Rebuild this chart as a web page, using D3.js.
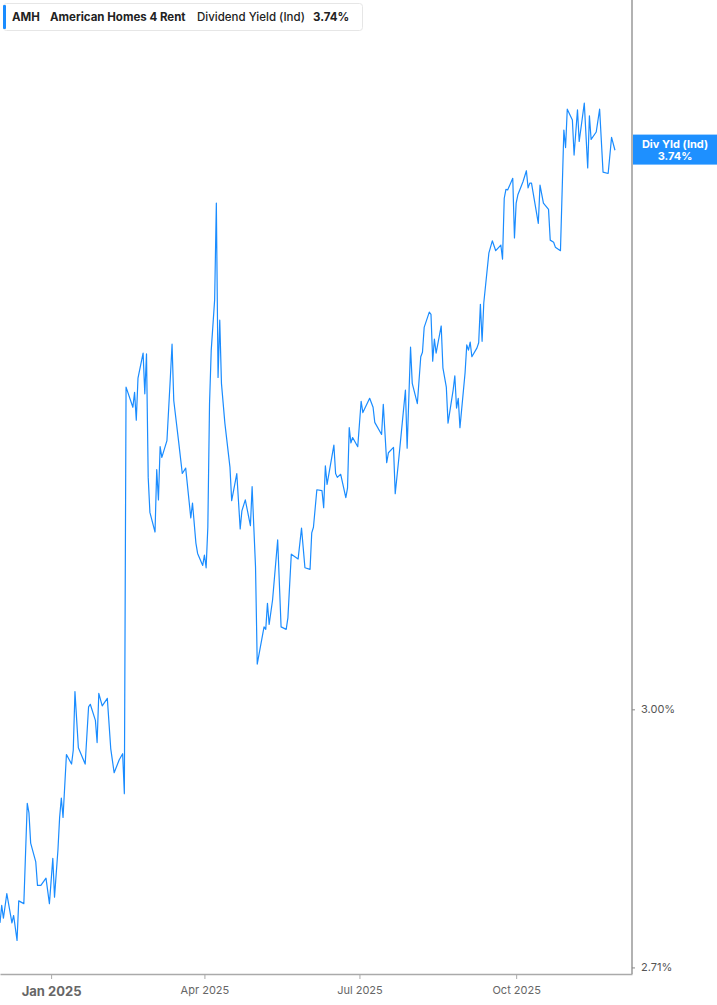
<!DOCTYPE html>
<html>
<head>
<meta charset="utf-8">
<script src="https://cdn.jsdelivr.net/npm/d3@7"></script>
<style>
  html, body { margin: 0; padding: 0; background: #fff; }
  svg { display: block; font-family: Inter, "Noto Sans", sans-serif; }
</style>
</head>
<body>
<svg id="svg" width="717" height="1005"></svg>
<script>
// dividend yield (ind), %
const dates = [
  "2024-12-02","2024-12-03","2024-12-04","2024-12-06","2024-12-09","2024-12-10","2024-12-12","2024-12-13",
  "2024-12-16","2024-12-18","2024-12-19","2024-12-20","2024-12-23","2024-12-24","2024-12-26","2024-12-29",
  "2024-12-31","2025-01-02","2025-01-03","2025-01-05","2025-01-06","2025-01-07","2025-01-08","2025-01-10",
  "2025-01-13","2025-01-14","2025-01-15","2025-01-17","2025-01-21","2025-01-23","2025-01-24","2025-01-27",
  "2025-01-28","2025-01-29","2025-01-31","2025-02-03","2025-02-05","2025-02-07","2025-02-10","2025-02-12",
  "2025-02-13","2025-02-14","2025-02-18","2025-02-19","2025-02-20","2025-02-21","2025-02-24","2025-02-25",
  "2025-02-26","2025-02-27","2025-02-28","2025-03-03","2025-03-04","2025-03-05","2025-03-06","2025-03-07",
  "2025-03-10","2025-03-12","2025-03-13","2025-03-14","2025-03-17","2025-03-19","2025-03-21","2025-03-24",
  "2025-03-25","2025-03-27","2025-03-28","2025-03-31","2025-04-01","2025-04-02","2025-04-03","2025-04-04",
  "2025-04-05","2025-04-07","2025-04-08","2025-04-09","2025-04-10","2025-04-11","2025-04-13","2025-04-16",
  "2025-04-17","2025-04-20","2025-04-22","2025-04-23","2025-04-25","2025-04-28","2025-04-29","2025-04-30",
  "2025-05-01","2025-05-02","2025-05-06","2025-05-07","2025-05-08","2025-05-09","2025-05-11","2025-05-14",
  "2025-05-16","2025-05-19","2025-05-20","2025-05-22","2025-05-26","2025-05-28","2025-05-30","2025-06-02",
  "2025-06-03","2025-06-04","2025-06-06","2025-06-09","2025-06-10","2025-06-11","2025-06-12","2025-06-16",
  "2025-06-17","2025-06-18","2025-06-20","2025-06-23","2025-06-24","2025-06-25","2025-06-26","2025-06-27",
  "2025-06-30","2025-07-02","2025-07-03","2025-07-07","2025-07-09","2025-07-10","2025-07-14","2025-07-15",
  "2025-07-17","2025-07-18","2025-07-21","2025-07-22","2025-07-24","2025-07-28","2025-07-29","2025-07-31",
  "2025-08-01","2025-08-04","2025-08-06","2025-08-07","2025-08-08","2025-08-11","2025-08-12","2025-08-13",
  "2025-08-14","2025-08-15","2025-08-18","2025-08-19","2025-08-21","2025-08-22","2025-08-25","2025-08-26",
  "2025-08-27","2025-08-28","2025-08-29","2025-09-01","2025-09-02","2025-09-03","2025-09-04","2025-09-05",
  "2025-09-08","2025-09-09","2025-09-10","2025-09-11","2025-09-12","2025-09-15","2025-09-17","2025-09-19",
  "2025-09-22","2025-09-23","2025-09-24","2025-09-25","2025-09-26","2025-09-29","2025-09-30","2025-10-01",
  "2025-10-02","2025-10-05","2025-10-07","2025-10-08","2025-10-09","2025-10-10","2025-10-14","2025-10-15",
  "2025-10-17","2025-10-20","2025-10-21","2025-10-23","2025-10-24","2025-10-27","2025-10-29","2025-10-30",
  "2025-10-31","2025-11-03","2025-11-04","2025-11-06","2025-11-07","2025-11-10","2025-11-12","2025-11-13",
  "2025-11-14","2025-11-17","2025-11-19","2025-11-21","2025-11-24","2025-11-26","2025-11-28"
];
const yields = [
  2.758,2.777,2.763,2.790,2.758,2.766,2.739,2.782,
  2.779,2.891,2.880,2.846,2.825,2.799,2.799,2.807,
  2.779,2.829,2.786,2.838,2.875,2.897,2.875,2.947,
  2.936,2.952,3.021,2.955,2.936,3.003,3.006,2.987,
  2.961,3.019,3.004,3.013,2.954,2.926,2.941,2.948,
  2.902,3.406,3.379,3.399,3.362,3.418,3.452,3.397,
  3.451,3.287,3.242,3.217,3.297,3.258,3.327,3.313,
  3.335,3.419,3.464,3.388,3.331,3.292,3.299,3.235,
  3.254,3.203,3.190,3.175,3.188,3.172,3.223,3.384,
  3.456,3.525,3.662,3.419,3.497,3.411,3.358,3.300,
  3.257,3.292,3.221,3.244,3.258,3.225,3.275,3.223,
  3.173,3.054,3.099,3.096,3.128,3.102,3.132,3.207,
  3.099,3.096,3.110,3.189,3.183,3.222,3.172,3.170,
  3.216,3.223,3.271,3.270,3.248,3.302,3.278,3.329,
  3.292,3.287,3.291,3.261,3.273,3.352,3.332,3.339,
  3.327,3.387,3.372,3.391,3.379,3.359,3.343,3.383,
  3.306,3.319,3.326,3.266,3.309,3.402,3.325,3.460,
  3.411,3.384,3.447,3.453,3.487,3.508,3.505,3.441,
  3.471,3.452,3.489,3.432,3.406,3.358,3.402,3.421,
  3.378,3.391,3.352,3.425,3.463,3.456,3.467,3.447,
  3.459,3.466,3.519,3.468,3.521,3.591,3.608,3.594,
  3.602,3.582,3.669,3.682,3.681,3.698,3.612,3.662,
  3.674,3.693,3.709,3.684,3.691,3.691,3.633,3.688,
  3.662,3.653,3.609,3.606,3.599,3.594,3.769,3.743,
  3.800,3.784,3.732,3.799,3.752,3.809,3.713,3.790,
  3.755,3.766,3.800,3.707,3.705,3.758,3.739
];
const xTicks = ["2025-01-01", "2025-04-01", "2025-07-01", "2025-10-01"];
const yTicks = [3.00, 2.71];
const lastValue = 3.74;

const parse = d3.utcParse("%Y-%m-%d");
const data = dates.map((d, i) => ({ date: parse(d), value: yields[i] }));

const plotW = 632, plotH = 974;
const blue = "#1a8cff";

const x = d3.scaleUtc()
  .domain([parse("2024-12-02"), parse("2025-12-08")])
  .range([0, plotW]);

const y = d3.scaleLog()
  .domain([2.703, 3.967])
  .range([plotH, 0]);

const svg = d3.select("#svg");

// the line
svg.append("path")
  .datum(data)
  .attr("fill", "none")
  .attr("stroke", blue)
  .attr("stroke-width", 1.2)
  .attr("stroke-linejoin", "round")
  .attr("d", d3.line().x((d) => x(d.date)).y((d) => y(d.value)));

// bottom axis
const xAxis = svg.append("g")
  .attr("transform", "translate(0," + plotH + ")")
  .call(d3.axisBottom(x)
    .tickValues(xTicks.map(parse))
    .tickSize(5)
    .tickSizeOuter(0)
    .tickPadding(7)
    .tickFormat(d3.utcFormat("%b %Y")));
xAxis.select(".domain").attr("stroke", "#aaa").attr("stroke-width", 1.5);
xAxis.selectAll(".tick line").attr("stroke", "#aaa");
xAxis.selectAll(".tick text")
  .attr("fill", "#666")
  .style("font-size", "11px")
  .style("font-family", "Inter, sans-serif");
xAxis.selectAll(".tick text")
  .filter((d) => d.getUTCMonth() === 0)
  .style("font-size", "13px")
  .style("font-weight", "700")
  .attr("dy", "0.8em");

// right axis
const yAxis = svg.append("g")
  .attr("transform", "translate(" + plotW + ",0)")
  .call(d3.axisRight(y)
    .tickValues(yTicks)
    .tickSize(3)
    .tickSizeOuter(0)
    .tickPadding(6)
    .tickFormat((d) => d.toFixed(2) + "%"));
yAxis.select(".domain")
  .attr("d", "M0,0V" + plotH)
  .attr("stroke", "#999")
  .attr("stroke-width", 1.5);
yAxis.selectAll(".tick line").attr("stroke", "#888");
yAxis.selectAll(".tick text")
  .attr("fill", "#555")
  .style("font-size", "11px")
  .style("font-family", "Inter, sans-serif");

// last value badge on the axis
const badge = svg.append("g")
  .attr("transform", "translate(" + (plotW + 1) + "," + y(lastValue) + ")");
badge.append("rect")
  .attr("x", 0)
  .attr("y", -15)
  .attr("width", 717 - plotW - 1)
  .attr("height", 30)
  .attr("fill", "#1e90ff");
badge.append("text")
  .attr("x", 42)
  .attr("y", -2)
  .attr("text-anchor", "middle")
  .attr("fill", "#fff")
  .style("font-size", "11px")
  .style("font-weight", "700")
  .text("Div Yld (Ind)");
badge.append("text")
  .attr("x", 42)
  .attr("y", 10)
  .attr("text-anchor", "middle")
  .attr("fill", "#fff")
  .style("font-size", "11px")
  .style("font-weight", "700")
  .text(lastValue.toFixed(2) + "%");

// legend box at the top
const legend = svg.append("g");
legend.append("rect")
  .attr("x", 3.5)
  .attr("y", 3.5)
  .attr("width", 359)
  .attr("height", 27)
  .attr("rx", 3)
  .attr("fill", "#fff")
  .attr("stroke", "#e6e6e6");
legend.append("rect")
  .attr("x", 3)
  .attr("y", 5)
  .attr("width", 3)
  .attr("height", 24)
  .attr("rx", 1)
  .attr("fill", blue);

const legendParts = [
  { text: "AMH", x: 12, weight: 700 },
  { text: "American Homes 4 Rent", x: 50, weight: 700 },
  { text: "Dividend Yield (Ind)", x: 197, weight: 500 },
  { text: lastValue.toFixed(2) + "%", x: 313, weight: 700 }
];
legend.selectAll("text")
  .data(legendParts)
  .join("text")
  .attr("x", (d) => d.x)
  .attr("y", 21)
  .attr("fill", "#222")
  .style("font-size", "11.5px")
  .style("font-weight", (d) => d.weight)
  .text((d) => d.text);
</script>
</body>
</html>
